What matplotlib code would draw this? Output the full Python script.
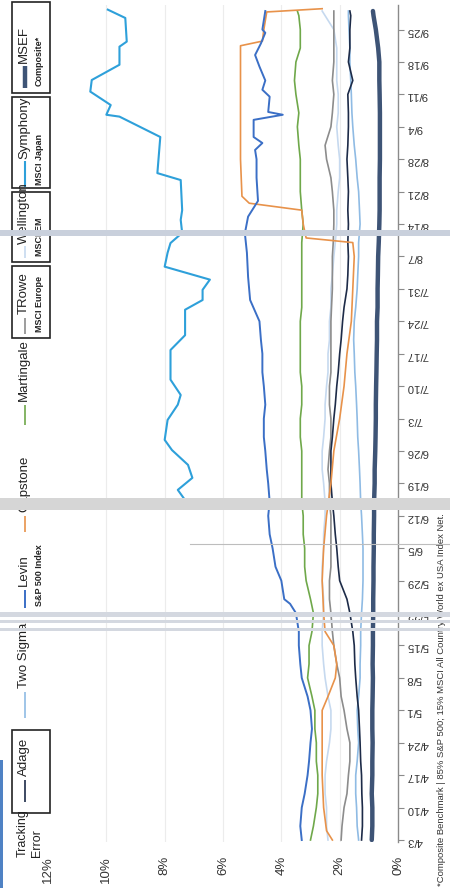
import matplotlib.pyplot as plt
from matplotlib.patches import Rectangle
from matplotlib.lines import Line2D

# canvas size in pixels (dpi 100)
W, H = 450, 888

# days counted from 4/3
days = [0, 3, 7, 10, 14, 17, 21, 24, 28, 31, 35, 38, 42, 45, 49, 52, 56, 59,
        63, 66, 70, 73, 77, 80, 84, 87, 91, 94, 98, 101, 105, 108, 112, 115,
        119, 122, 126, 129, 133, 136, 140, 143, 147, 150, 154, 157, 161, 164,
        168, 171, 175, 178, 179]

msef = [0.90, 0.88, 0.88, 0.90, 0.88, 0.88, 0.87, 0.88, 0.88, 0.87, 0.86, 0.87,
        0.86, 0.86, 0.85, 0.85, 0.84, 0.84, 0.83, 0.83, 0.82, 0.82, 0.80, 0.80,
        0.78, 0.77, 0.76, 0.76, 0.75, 0.74, 0.73, 0.72, 0.72, 0.70, 0.70, 0.69,
        0.68, 0.66, 0.64, 0.63, 0.63, 0.63, 0.62, 0.62, 0.62, 0.62, 0.63, 0.64,
        0.64, 0.68, 0.76, 0.84, 0.86]

adage = [1.25, 1.22, 1.22, 1.24, 1.25, 1.28, 1.30, 1.32, 1.35, 1.40, 1.45, 1.48,
         1.50, 1.55, 1.65, 1.75, 2.00, 2.05, 2.10, 2.15, 2.20, 2.25, 2.30, 2.30,
         2.30, 2.25, 2.20, 2.15, 2.10, 2.05, 2.00, 1.95, 1.90, 1.85, 1.75, 1.72,
         1.70, 1.72, 1.70, 1.72, 1.70, 1.72, 1.75, 1.72, 1.70, 1.70, 1.72, 1.55,
         1.70, 1.65, 1.65, 1.62, 1.65]

two_sigma = [1.35, 1.40, 1.42, 1.45, 1.45, 1.40, 1.35, 1.38, 1.40, 1.35, 1.30,
             1.30, 1.28, 1.28, 1.25, 1.22, 1.20, 1.20, 1.20, 1.22, 1.25, 1.28,
             1.30, 1.32, 1.35, 1.38, 1.40, 1.42, 1.45, 1.48, 1.50, 1.52, 1.50,
             1.45, 1.40, 1.38, 1.35, 1.35, 1.30, 1.32, 1.35, 1.40, 1.45, 1.50,
             1.55, 1.58, 1.60, 1.62, 1.65, 1.65, 1.68, 1.70, 1.70]

trowe = [1.95, 1.92, 1.85, 1.75, 1.70, 1.65, 1.65, 1.75, 1.85, 1.95, 2.00, 2.10,
         2.20, 2.25, 2.30, 2.35, 2.35, 2.30, 2.30, 2.30, 2.30, 2.35, 2.35, 2.40,
         2.35, 2.30, 2.30, 2.35, 2.35, 2.30, 2.30, 2.30, 2.30, 2.28, 2.25, 2.25,
         2.25, 2.22, 2.20, 2.20, 2.25, 2.30, 2.45, 2.50, 2.30, 2.25, 2.20, 2.25,
         2.20, 2.20, 2.20, 2.20, 2.20]

wellington = [2.40, 2.45, 2.45, 2.50, 2.50, 2.45, 2.35, 2.30, 2.30, 2.40, 2.50,
              2.55, 2.60, 2.60, 2.55, 2.55, 2.60, 2.60, 2.55, 2.55, 2.50, 2.50,
              2.55, 2.60, 2.60, 2.55, 2.50, 2.50, 2.45, 2.40, 2.40, 2.35, 2.35,
              2.30, 2.30, 2.25, 2.20, 2.15, 2.10, 2.10, 2.05, 2.00, 2.00, 2.05,
              2.10, 2.05, 2.05, 2.10, 2.10, 2.10, 2.20, 2.50, 2.60]

martingale = [3.00, 2.90, 2.80, 2.75, 2.75, 2.80, 2.80, 2.85, 2.85, 2.95, 3.10,
              3.05, 3.05, 2.95, 2.90, 3.00, 3.15, 3.20, 3.20, 3.25, 3.25, 3.30,
              3.30, 3.30, 3.30, 3.35, 3.35, 3.30, 3.30, 3.35, 3.35, 3.35, 3.35,
              3.30, 3.30, 3.30, 3.30, 3.30, 3.25, 3.30, 3.35, 3.35, 3.35, 3.40,
              3.45, 3.40, 3.50, 3.55, 3.50, 3.35, 3.35, 3.40, 3.45]

levin_days = [0, 3, 7, 10, 14, 17, 21, 24, 28, 31, 35, 38, 42, 45, 49, 51, 52,
              56, 59, 63, 66, 70, 73, 77, 80, 84, 87, 91, 94, 98, 101, 105, 108,
              112, 116.6, 121.6, 126.8, 131, 134.6, 138, 143, 147, 149, 150.5,
              151.8, 155.5, 156.6, 157.2, 160.5, 162, 164, 167, 169.5, 172,
              174.3, 175, 179]
levin = [3.30, 3.35, 3.30, 3.20, 3.10, 3.05, 3.00, 2.95, 3.00, 3.10, 3.30, 3.35,
         3.40, 3.40, 3.50, 3.70, 3.90, 4.00, 4.20, 4.30, 4.40, 4.45, 4.40, 4.45,
         4.50, 4.55, 4.60, 4.60, 4.55, 4.60, 4.65, 4.65, 4.70, 4.75, 5.07, 5.14,
         5.18, 5.25, 5.14, 4.80, 4.85, 4.85, 4.90, 4.65, 4.95, 4.95, 3.95, 4.45,
         4.40, 4.65, 4.55, 4.75, 4.90, 4.70, 4.55, 4.65, 4.55]

capstone_days = [0, 2, 7, 14, 21, 28, 31, 35, 38, 42, 45, 49, 56, 63, 70, 77,
                 84, 91, 98, 105, 112, 119, 126, 129, 130, 133, 136, 137.5, 139,
                 147, 154, 161, 168, 171.5, 172.5, 175, 178.8, 179.5]
capstone = [2.25, 2.45, 2.55, 2.60, 2.60, 2.60, 2.40, 2.15, 2.10, 2.20, 2.50,
            2.55, 2.60, 2.55, 2.45, 2.30, 2.20, 2.00, 1.85, 1.75, 1.60, 1.55,
            1.50, 1.55, 3.15, 3.25, 3.30, 5.10, 5.35, 5.40, 5.40, 5.40, 5.40,
            5.40, 4.65, 4.60, 4.50, 2.60]

symphony_days = [73.4, 75.6, 78.2, 81, 84.2, 86.4, 90.7, 94, 96.1, 99.4, 105.8,
                 109, 114.5, 116.6, 118.8, 121, 123.8, 126.8, 128.9, 131.1,
                 133.9, 136, 142.5, 144, 151.8, 154, 156.2, 156.6, 158.7, 161.6,
                 164.1, 167.4, 171.3, 172.4, 177.5, 179.3]
symphony = [7.30, 7.55, 7.05, 7.20, 7.75, 8.00, 7.90, 7.55, 7.45, 7.80, 7.80,
            7.30, 7.30, 6.70, 6.70, 6.45, 8.00, 7.90, 7.80, 7.40, 7.45, 7.40,
            7.45, 8.25, 8.15, 8.85, 9.55, 10.00, 9.85, 10.55, 10.50, 9.55, 9.55,
            9.30, 9.35, 9.95]

date_labels = ['4/3', '4/10', '4/17', '4/24', '5/1', '5/8', '5/15', '5/22',
               '5/29', '6/5', '6/12', '6/19', '6/26', '7/3', '7/10', '7/17',
               '7/24', '7/31', '8/7', '8/14', '8/21', '8/28', '9/4', '9/11',
               '9/18', '9/25']
pct_ticks = [0, 2, 4, 6, 8, 10, 12]

plt.rcParams.update({
    'font.family': ['Liberation Sans', 'DejaVu Sans'],
    'font.size': 9,
    'text.color': '#333333',
})


def fx(px):
    return px / W


def fy(py):
    return 1 - py / H


fig = plt.figure(figsize=(W / 100, H / 100), dpi=100)
fig.patch.set_facecolor('white')

# value axis runs right-to-left, dates run bottom-to-top
ax = fig.add_axes([fx(48), fy(842), 350 / W, 837 / H])
ax.set_xlim(12, 0)
ax.set_ylim(-0.43, 180.3)

for s in ['left', 'top', 'bottom']:
    ax.spines[s].set_visible(False)
ax.spines['right'].set_color('#8a8a8a')
ax.spines['right'].set_linewidth(1.0)

ax.yaxis.tick_right()
ax.set_yticks([7 * i for i in range(len(date_labels))])
ax.set_yticklabels(date_labels)
ax.tick_params(axis='y', direction='out', length=4, width=0.8,
               color='#8a8a8a', labelrotation=180, labelsize=8.2,
               labelcolor='#333333', pad=2)

ax.set_xticks(pct_ticks)
ax.set_xticklabels([f'{v}%' for v in pct_ticks])
ax.tick_params(axis='x', length=0, labelrotation=90, labelsize=9.5,
               labelcolor='#333333', pad=10)
for v in pct_ticks[1:-1]:
    ax.axvline(v, color='#ececec', lw=0.8, zorder=0)

line_w = 1.2
ax.plot(wellington, days, color='#c6d9ef', lw=line_w)
ax.plot(trowe, days, color='#8c8c8c', lw=line_w)
ax.plot(two_sigma, days, color='#8fbbe4', lw=line_w)
ax.plot(adage, days, color='#1d2b48', lw=line_w)
ax.plot(martingale, days, color='#6fa84a', lw=line_w)
ax.plot(capstone, capstone_days, color='#e8924a', lw=line_w)
ax.plot(levin, levin_days, color='#3b6fc6', lw=1.4)
ax.plot(symphony, symphony_days, color='#2ea0da', lw=1.5)
ax.plot(msef, days, color='#3e5476', lw=3.2, solid_capstyle='round')

# legend column, drawn sideways
legend_items = [
    # label, sub label, colour, width, sample from/to, text start
    ('Adage', None, '#1d2b48', 1.2, 802, 780, 776),
    ('Two Sigma', None, '#8fbbe4', 1.2, 718, 692, 688),
    ('Levin', 'S&P 500 Index', '#3b6fc6', 1.4, 608, 590, 586),
    ('Capstone', None, '#e8924a', 1.2, 532, 516, 512),
    ('Martingale', None, '#6fa84a', 1.2, 425, 405, 401),
    ('TRowe', 'MSCI Europe', '#8c8c8c', 1.2, 334, 318, 314),
    ('Wellington', 'MSCI EM', '#c6d9ef', 1.2, 258, 246, 244),
    ('Symphony', 'MSCI Japan', '#2ea0da', 1.5, 187, 161, 159),
    ('MSEF', 'Composite*', '#3e5476', 3.2, 88, 66, 63),
]
for label, sub, col, lw, y0, y1, ty in legend_items:
    fig.add_artist(Line2D([fx(25), fx(25)], [fy(y0), fy(y1)], color=col,
                          lw=lw, solid_capstyle='butt'))
    fig.text(fx(24), fy(ty), label, rotation=90, ha='center', va='bottom',
             fontsize=9.5, color='#222222')
    if sub:
        fig.text(fx(39), fy(y0 - 2), sub, rotation=90, ha='center',
                 va='bottom', fontsize=6.5, fontweight='bold', color='#222222')

# frames around legend entries
for y_top, y_bot in [(2, 93), (97, 188), (192, 262), (266, 338), (730, 813)]:
    fig.add_artist(Rectangle((fx(12), fy(y_bot)), 38 / W, (y_bot - y_top) / H,
                             fill=False, edgecolor='#222222', lw=1.2))

fig.text(fx(30), fy(857), 'Tracking\nError', rotation=90, ha='center',
         va='bottom', multialignment='left', fontsize=9, color='#222222')

fig.text(fx(441), fy(886),
         '*Composite Benchmark | 85% S&P 500; 15% MSCI All Country World '
         'ex USA Index Net.', rotation=90, ha='center', va='bottom',
         fontsize=6.8, color='#333333')

# scanner streaks across the page
for y_top, h, col in [(230, 6, '#c9d0dc'), (498, 12, '#d6d6d6'),
                      (612, 5, '#d4d8e0'), (620, 3, '#d4d8e0'),
                      (628, 3, '#d4d8e0')]:
    fig.add_artist(Rectangle((0, fy(y_top + h)), 1, h / H, color=col,
                             lw=0, zorder=10))
fig.add_artist(Line2D([fx(190), 1], [fy(544), fy(544)], color='#bdbdbd',
                      lw=0.8, zorder=10))
# blue page edge at lower left
fig.add_artist(Rectangle((0, 0), fx(3), fy(760), color='#4f82c4', lw=0,
                         zorder=10))

fig.savefig('out.png', dpi=100)
